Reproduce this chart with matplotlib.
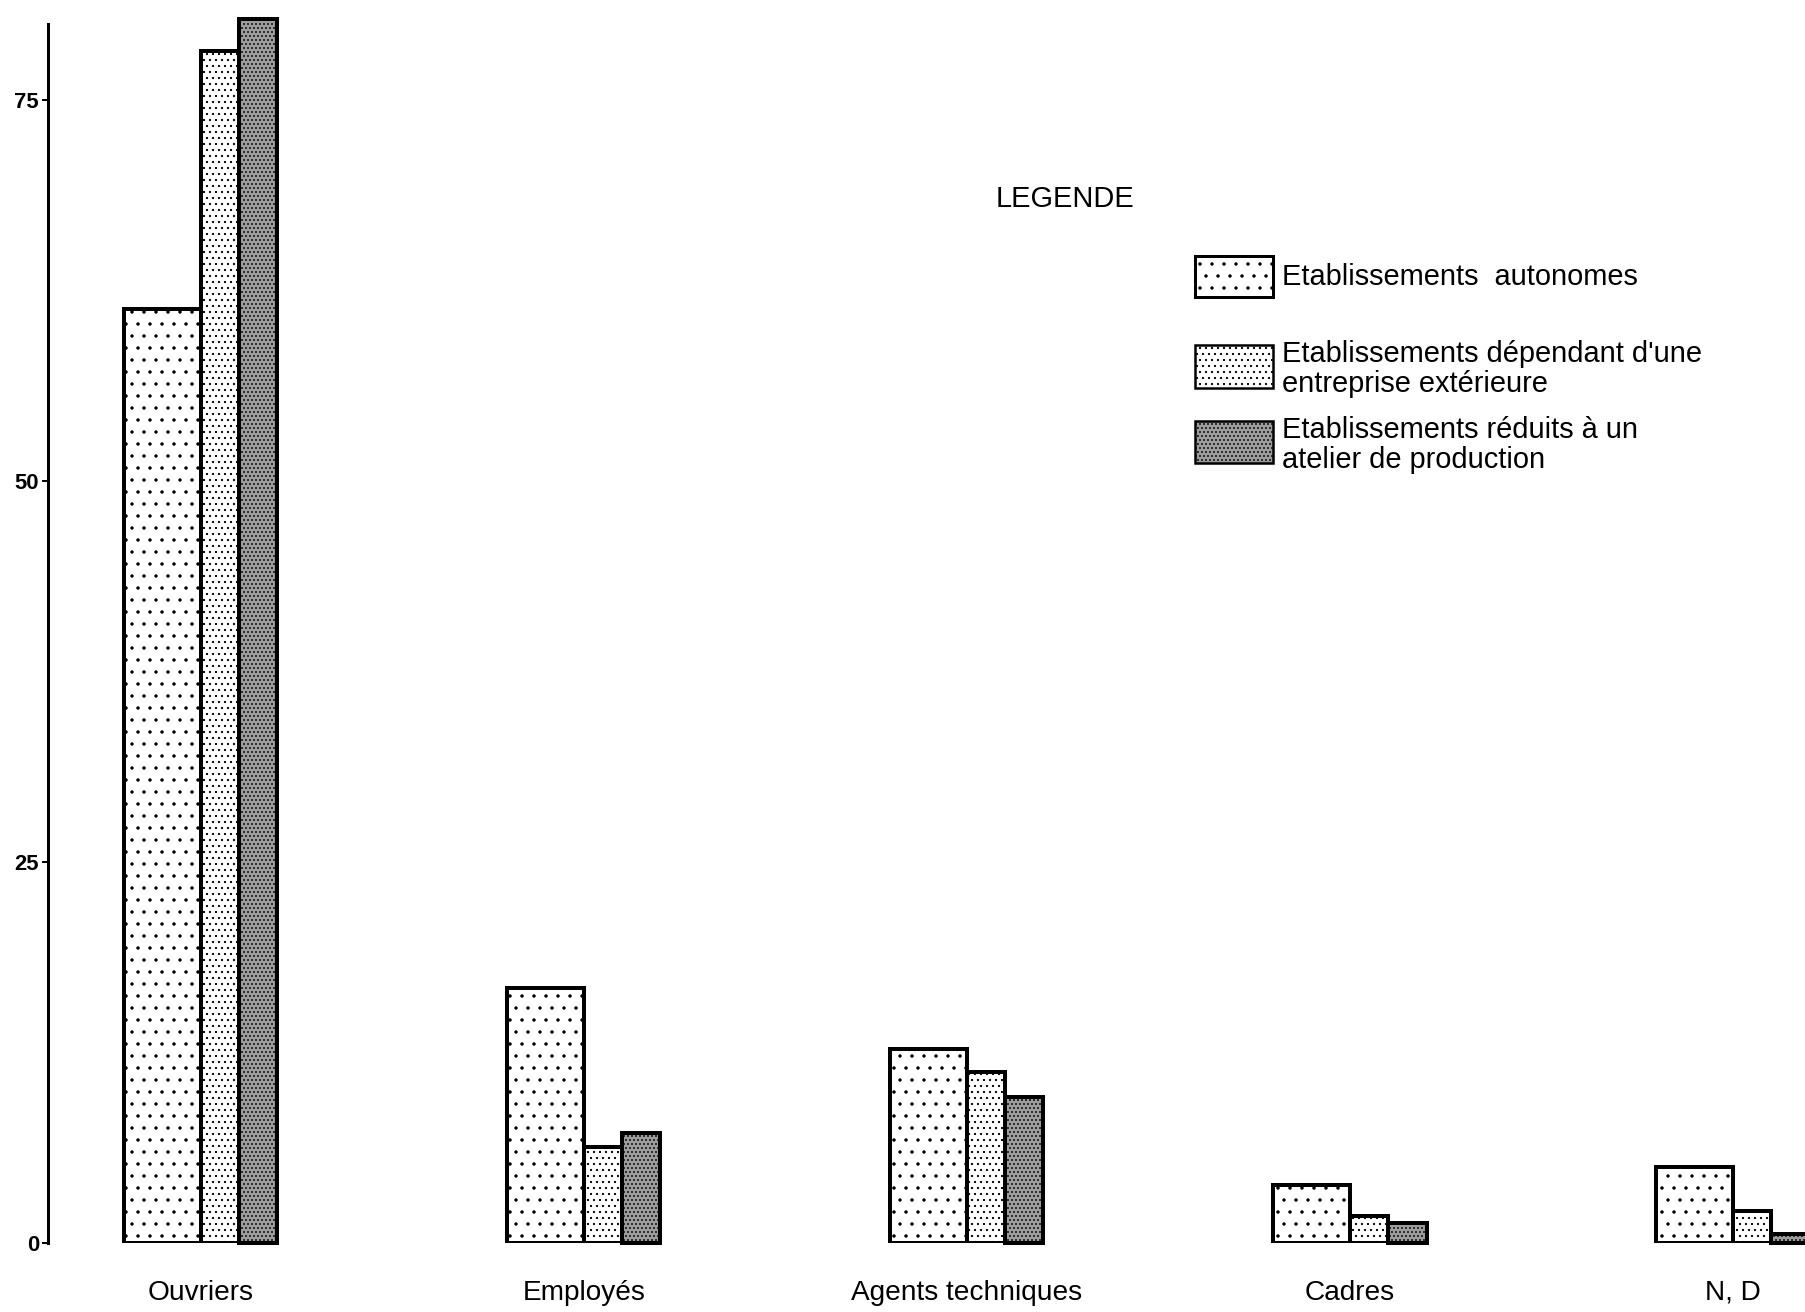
import matplotlib
matplotlib.use("Agg")
import matplotlib.pyplot as plt
from matplotlib.patches import Rectangle

plt.rcParams['font.family'] = ['Liberation Sans', 'DejaVu Sans']
plt.rcParams['hatch.linewidth'] = 1.0

# données (en %)
categories = ['Ouvriers', 'Employés', 'Agents techniques', 'Cadres', 'N, D']
autonomes = [61.3, 16.7, 12.7, 3.8, 5.0]
dependants = [78.2, 6.3, 11.2, 1.8, 2.1]
reduits = [80.3, 7.2, 9.6, 1.3, 0.6]
yticks = [0, 25, 50, 75]
legend_labels = ['Etablissements  autonomes',
                 'Etablissements dépendant d\'une\nentreprise extérieure',
                 'Etablissements réduits à un\natelier de production']

# dpi 72 -> 1 pt = 1 px, et les trames (hatch) ont le bon pas
fig = plt.figure(figsize=(1805 / 72, 1312 / 72), dpi=72, facecolor='white')
ax = fig.add_axes([48 / 1805, 0.0526, 1 - 48 / 1805, 0.9467])

x = list(range(len(categories)))
styles = [
    dict(facecolor='white', hatch='.'),
    dict(facecolor='white', hatch='..'),
    dict(facecolor='#9c9c9c', hatch='...'),
]
ax.bar([i - 0.2 for i in x], autonomes, width=0.2, align='edge',
       edgecolor='black', linewidth=4, **styles[0])
ax.bar(x, dependants, width=0.1, align='edge',
       edgecolor='black', linewidth=4, **styles[1])
ax.bar([i + 0.1 for i in x], reduits, width=0.1, align='edge',
       edgecolor='black', linewidth=4, clip_on=False, **styles[2])

ax.set_xlim(-0.3986, 4.188)
ax.set_ylim(0, 81.5)

for s in ['top', 'right', 'bottom']:
    ax.spines[s].set_visible(False)
ax.spines['left'].set_bounds(0, 80)
ax.spines['left'].set_linewidth(3)

ax.set_yticks(yticks)
ax.set_yticklabels([str(v) for v in yticks], fontsize=22, fontweight='bold')
ax.tick_params(axis='y', direction='out', length=6, width=2, pad=3)

ax.set_xticks(x)
ax.set_xticklabels(categories, fontsize=28)
ax.tick_params(axis='x', length=0, pad=37)

# légende dessinée à la main
fig.text(1065 / 1805, 1 - 199 / 1312, 'LEGENDE', fontsize=29,
         ha='center', va='center')
box_y = [(256, 297), (345, 388), (421, 463)]
text_y = [277, 369, 445]
for (top, bot), ty, st, lab, lw in zip(box_y, text_y, styles, legend_labels, [3, 2.5, 2.5]):
    fig.patches.append(Rectangle((1195 / 1805, 1 - bot / 1312), 78 / 1805, (bot - top) / 1312,
                                 transform=fig.transFigure, edgecolor='black',
                                 linewidth=lw, **st))
    fig.text(1282 / 1805, 1 - ty / 1312, lab, fontsize=29, ha='left', va='center',
             linespacing=1.08)

fig.savefig('out.png', dpi=72, facecolor='white')
